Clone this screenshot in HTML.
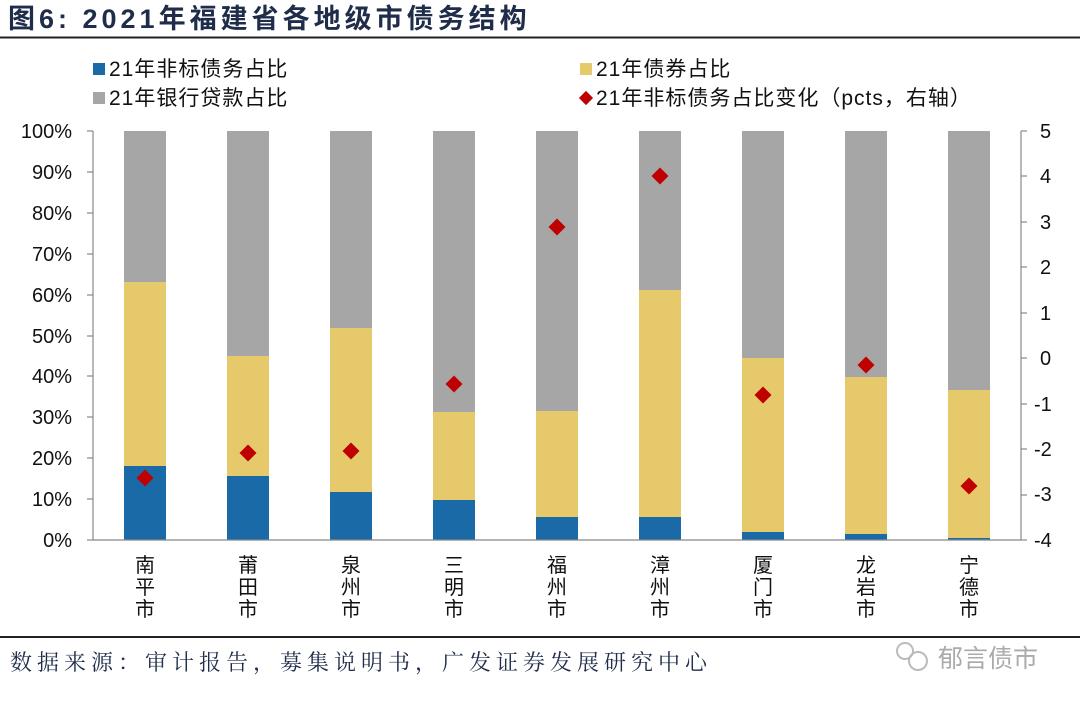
<!DOCTYPE html>
<html><head><meta charset="utf-8"><style>
body{margin:0;width:1080px;height:705px;background:#fff;overflow:hidden}
svg{display:block}
text{font-family:"Liberation Sans","Noto Sans CJK SC",sans-serif}
.s{font-family:"Noto Serif CJK SC","Liberation Serif",serif}
</style></head><body>
<svg width="1080" height="705" viewBox="0 0 1080 705">
<text x="8" y="28" font-size="27" font-weight="bold" fill="#1f2d4a" letter-spacing="4">图6:  2021年福建省各地级市债务结构</text>
<line x1="0" y1="37.5" x2="1080" y2="37.5" stroke="#222" stroke-width="2"/>
<g font-size="21" fill="#111">
<rect x="93" y="63" width="12" height="12" fill="#1a6aa8"/>
<text x="109" y="76" letter-spacing="1">21年非标债务占比</text>
<rect x="93" y="92" width="12" height="12" fill="#a6a6a6"/>
<text x="109" y="105" letter-spacing="1">21年银行贷款占比</text>
<rect x="580" y="63" width="12" height="12" fill="#e6c96a"/>
<text x="596" y="76" letter-spacing="1">21年债券占比</text>
<rect x="581" y="93" width="10" height="10" fill="#c00000" transform="rotate(45 586 98)"/>
<text x="596" y="105" letter-spacing="1">21年非标债务占比变化（pcts，右轴）</text>
</g>
<g font-size="20" fill="#111" text-anchor="end">
<text x="72" y="547">0%</text><text x="72" y="506">10%</text><text x="72" y="465">20%</text><text x="72" y="424">30%</text><text x="72" y="383">40%</text><text x="72" y="343">50%</text><text x="72" y="302">60%</text><text x="72" y="261">70%</text><text x="72" y="220">80%</text><text x="72" y="179">90%</text><text x="72" y="138">100%</text>
</g>
<g font-size="20" fill="#111">
<text x="1040" y="138">5</text><text x="1040" y="183">4</text><text x="1040" y="229">3</text><text x="1040" y="274">2</text><text x="1040" y="320">1</text><text x="1040" y="365">0</text><text x="1034" y="411">-1</text><text x="1034" y="456">-2</text><text x="1034" y="501">-3</text><text x="1034" y="547">-4</text>
</g>
<g>
<rect x="124" y="131" width="42" height="151" fill="#a6a6a6"/><rect x="124" y="282" width="42" height="184" fill="#e6c96a"/><rect x="124" y="466" width="42" height="74" fill="#1a6aa8"/>
<rect x="227" y="131" width="42" height="225" fill="#a6a6a6"/><rect x="227" y="356" width="42" height="120" fill="#e6c96a"/><rect x="227" y="476" width="42" height="64" fill="#1a6aa8"/>
<rect x="330" y="131" width="42" height="197" fill="#a6a6a6"/><rect x="330" y="328" width="42" height="164" fill="#e6c96a"/><rect x="330" y="492" width="42" height="48" fill="#1a6aa8"/>
<rect x="433" y="131" width="42" height="281" fill="#a6a6a6"/><rect x="433" y="412" width="42" height="88" fill="#e6c96a"/><rect x="433" y="500" width="42" height="40" fill="#1a6aa8"/>
<rect x="536" y="131" width="42" height="280" fill="#a6a6a6"/><rect x="536" y="411" width="42" height="106" fill="#e6c96a"/><rect x="536" y="517" width="42" height="23" fill="#1a6aa8"/>
<rect x="639" y="131" width="42" height="159" fill="#a6a6a6"/><rect x="639" y="290" width="42" height="227" fill="#e6c96a"/><rect x="639" y="517" width="42" height="23" fill="#1a6aa8"/>
<rect x="742" y="131" width="42" height="227" fill="#a6a6a6"/><rect x="742" y="358" width="42" height="174" fill="#e6c96a"/><rect x="742" y="532" width="42" height="8" fill="#1a6aa8"/>
<rect x="845" y="131" width="42" height="246" fill="#a6a6a6"/><rect x="845" y="377" width="42" height="157" fill="#e6c96a"/><rect x="845" y="534" width="42" height="6" fill="#1a6aa8"/>
<rect x="948" y="131" width="42" height="259" fill="#a6a6a6"/><rect x="948" y="390" width="42" height="148" fill="#e6c96a"/><rect x="948" y="538" width="42" height="2" fill="#1a6aa8"/>
</g>
<g fill="#c00000">
<rect x="139" y="472" width="12" height="12" transform="rotate(45 145 478)"/>
<rect x="242" y="447" width="12" height="12" transform="rotate(45 248 453)"/>
<rect x="345" y="445" width="12" height="12" transform="rotate(45 351 451)"/>
<rect x="448" y="378" width="12" height="12" transform="rotate(45 454 384)"/>
<rect x="551" y="221" width="12" height="12" transform="rotate(45 557 227)"/>
<rect x="654" y="170" width="12" height="12" transform="rotate(45 660 176)"/>
<rect x="757" y="389" width="12" height="12" transform="rotate(45 763 395)"/>
<rect x="860" y="359" width="12" height="12" transform="rotate(45 866 365)"/>
<rect x="963" y="480" width="12" height="12" transform="rotate(45 969 486)"/>
</g>
<g stroke="#888" stroke-width="1.2">
<line x1="93" y1="131" x2="93" y2="540"/><line x1="1021" y1="131" x2="1021" y2="540"/><line x1="93" y1="540" x2="1021" y2="540"/>
<line x1="87" y1="131" x2="93" y2="131"/><line x1="87" y1="172" x2="93" y2="172"/><line x1="87" y1="213" x2="93" y2="213"/><line x1="87" y1="254" x2="93" y2="254"/><line x1="87" y1="295" x2="93" y2="295"/><line x1="87" y1="336" x2="93" y2="336"/><line x1="87" y1="376" x2="93" y2="376"/><line x1="87" y1="417" x2="93" y2="417"/><line x1="87" y1="458" x2="93" y2="458"/><line x1="87" y1="499" x2="93" y2="499"/><line x1="87" y1="540" x2="93" y2="540"/>
<line x1="1021" y1="131" x2="1027" y2="131"/><line x1="1021" y1="176" x2="1027" y2="176"/><line x1="1021" y1="222" x2="1027" y2="222"/><line x1="1021" y1="267" x2="1027" y2="267"/><line x1="1021" y1="313" x2="1027" y2="313"/><line x1="1021" y1="358" x2="1027" y2="358"/><line x1="1021" y1="404" x2="1027" y2="404"/><line x1="1021" y1="449" x2="1027" y2="449"/><line x1="1021" y1="495" x2="1027" y2="495"/><line x1="1021" y1="540" x2="1027" y2="540"/>
</g>
<g class="s" font-size="20" fill="#111" text-anchor="middle">
<text x="145" y="572">南</text><text x="145" y="594">平</text><text x="145" y="616">市</text>
<text x="248" y="572">莆</text><text x="248" y="594">田</text><text x="248" y="616">市</text>
<text x="351" y="572">泉</text><text x="351" y="594">州</text><text x="351" y="616">市</text>
<text x="454" y="572">三</text><text x="454" y="594">明</text><text x="454" y="616">市</text>
<text x="557" y="572">福</text><text x="557" y="594">州</text><text x="557" y="616">市</text>
<text x="660" y="572">漳</text><text x="660" y="594">州</text><text x="660" y="616">市</text>
<text x="763" y="572">厦</text><text x="763" y="594">门</text><text x="763" y="616">市</text>
<text x="866" y="572">龙</text><text x="866" y="594">岩</text><text x="866" y="616">市</text>
<text x="969" y="572">宁</text><text x="969" y="594">德</text><text x="969" y="616">市</text>
</g>
<line x1="0" y1="637" x2="1080" y2="637" stroke="#222" stroke-width="2"/>
<text class="s" x="10" y="670" font-size="22" fill="#1f2d4a" letter-spacing="5">数据来源：审计报告，募集说明书，广发证券发展研究中心</text>
<circle cx="905" cy="651" r="8" fill="none" stroke="#bbb" stroke-width="2"/>
<circle cx="918" cy="661" r="9" fill="none" stroke="#bbb" stroke-width="2"/>
<text x="938" y="667" font-size="25" fill="#aaa">郁言债市</text>
</svg>
</body></html>
